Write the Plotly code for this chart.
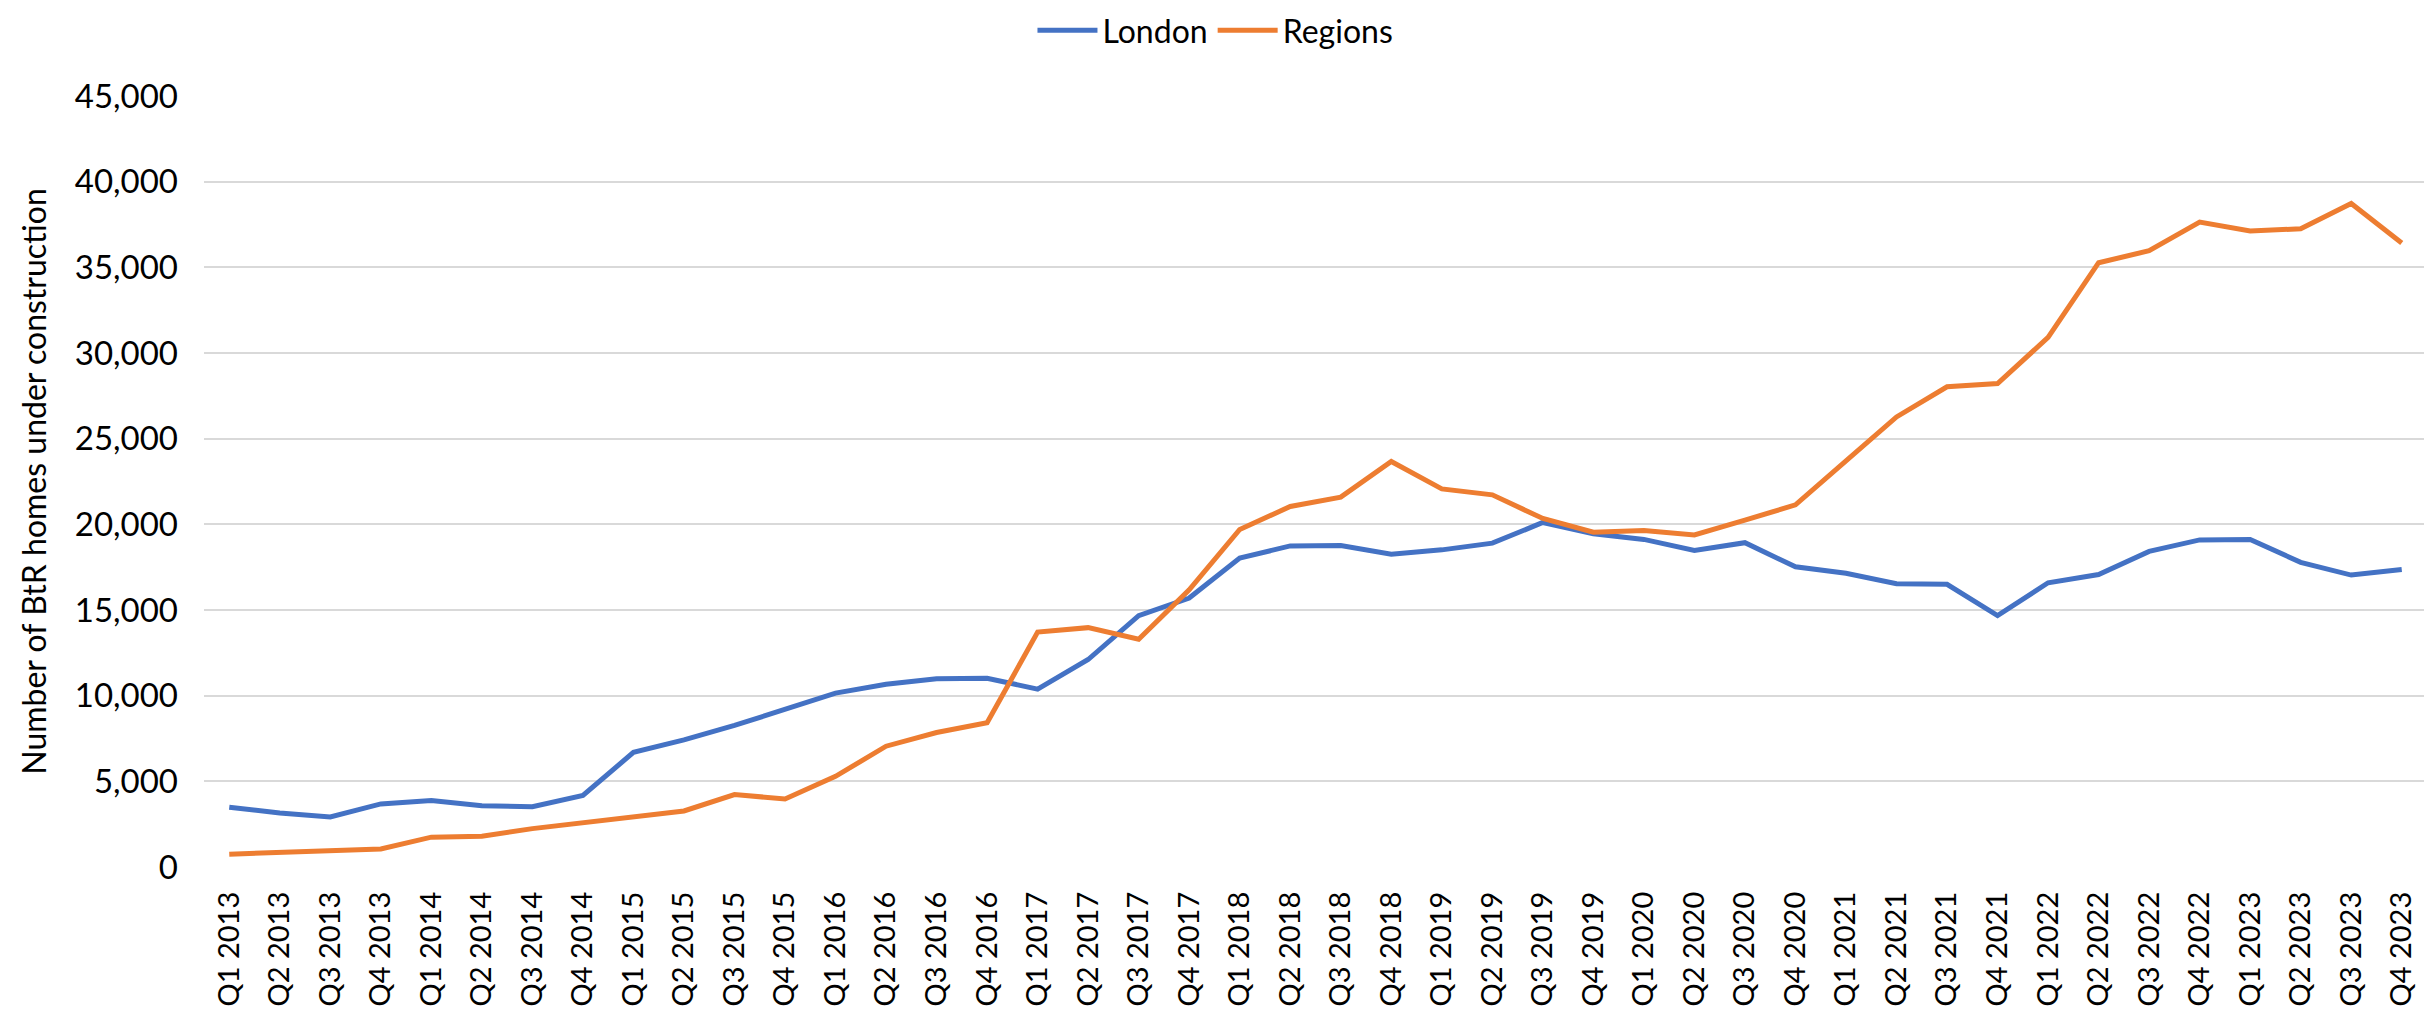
import plotly.graph_objects as go

quarters = [f"Q{q} {y}" for y in range(2013, 2024) for q in range(1, 5)]

london = [3490, 3150, 2920, 3680, 3880, 3580, 3520, 4180, 6690, 7420,
          8260, 9190, 10150, 10670, 10990, 11020, 10380, 12110, 14670, 15700,
          18030, 18740, 18760, 18260, 18510, 18900, 20110, 19450, 19120, 18480,
          18930, 17520, 17140, 16530, 16500, 14670, 16590, 17070, 18420, 19090,
          19120, 17780, 17040, 17360]

regions = [750, 870, 940, 1050, 1740, 1800, 2240, 2560, 2920, 3270,
           4230, 3970, 5290, 7050, 7850, 8420, 13710, 13970, 13290, 16180,
           19700, 21040, 21590, 23670, 22070, 21720, 20340, 19540, 19640, 19380,
           20240, 21140, 23700, 26270, 28030, 28220, 30910, 35270, 35970, 37640,
           37120, 37250, 38730, 36420]

FONT = "Lato"

fig = go.Figure()
fig.add_trace(go.Scatter(x=quarters, y=london, mode="lines", name="London",
                         line=dict(color="#4472C4", width=5)))
fig.add_trace(go.Scatter(x=quarters, y=regions, mode="lines", name="Regions",
                         line=dict(color="#ED7D31", width=5)))

fig.update_layout(
    width=2432, height=1013,
    margin=dict(l=196, r=13, t=88, b=154, autoexpand=False),
    paper_bgcolor="white", plot_bgcolor="white",
    font=dict(family=FONT, size=33, color="#000000"),
    showlegend=True,
    legend=dict(orientation="h", x=0.455, xanchor="center", y=1.085, yanchor="middle",
                font=dict(family=FONT, size=32, color="#000000"),
                itemwidth=60, tracegroupgap=0, bgcolor="rgba(0,0,0,0)"),
    xaxis=dict(type="category", range=[-0.5, 43.5], tickangle=-90,
               showgrid=False, showline=False, zeroline=False,
               ticks="", ticklabelstandoff=18,
               tickfont=dict(family=FONT, size=29, color="#000000")),
    yaxis=dict(range=[0, 45000], dtick=5000, tickformat=",",
               showgrid=True, gridcolor="#D9D9D9", gridwidth=2,
               zeroline=False, showline=False, ticks="",
               ticklabelstandoff=25,
               tickfont=dict(family=FONT, size=33, color="#000000"),
               title=dict(text="Number of BtR homes under construction",
                          font=dict(family=FONT, size=32, color="#000000"),
                          standoff=18)),
)

fig.write_html("out.html")
